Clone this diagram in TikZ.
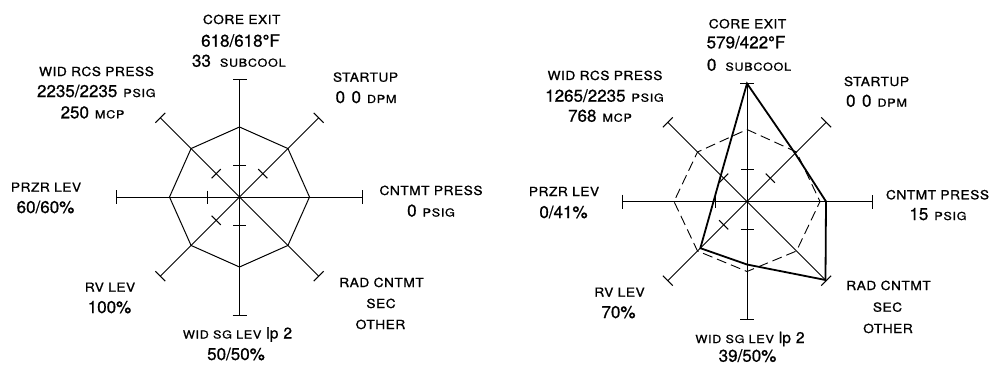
\documentclass[tikz,border=0pt]{standalone}
\usepackage{fontspec}
\setmainfont{TeX Gyre Heros}
\newfontfamily\labf[FakeStretch=1.1,LetterSpace=4,FakeBold=1.0]{TeX Gyre Heros}
\newfontfamily\unitf[FakeStretch=1.15,LetterSpace=6,FakeBold=1.0]{TeX Gyre Heros}
\newfontfamily\numf[FakeBold=0.8]{TeX Gyre Heros}
\newcommand\LB[1]{{\labf\fontsize{12.5}{14}\selectfont #1}}
\newcommand\UN[1]{{\unitf\fontsize{11}{12}\selectfont #1}}
\newcommand\NU[1]{{\numf\fontsize{17}{19}\selectfont #1}}
\newcommand\LP[1]{{\numf\fontsize{15.5}{17}\selectfont #1}}
\newcommand\radaxes[5]{%
  \begin{scope}[shift={(#1,#2)}]
    \foreach \a/\r in {0/#3,180/#3,90/#4,270/#4,45/#5,135/#5,225/#5,315/#5}{
      \begin{scope}[rotate=\a]
        \draw[axisline] (0,0) -- (\r,0);
        \draw[axisline] (\r,-7) -- (\r,7);
      \end{scope}
    }
    \foreach \a/\r in {90/32,270/28,180/32,45/33,135/33,225/33}{
      \begin{scope}[rotate=\a]
        \draw[axisline] (\r,-6.5) -- (\r,6.5);
      \end{scope}
    }
  \end{scope}}
\begin{document}
\begin{tikzpicture}[x=1pt,y=1pt,
  axisline/.style={line width=1pt,black},
  octo/.style={line width=1pt,line join=miter},
  octodash/.style={line width=0.9pt,dash pattern=on 10pt off 5pt},
  boldline/.style={line width=1.8pt,line join=miter},
  txt/.style={anchor=base,inner sep=0pt,outer sep=0pt}]
\useasboundingbox (0,0) rectangle (990,365);
\fill[white] (0,0) rectangle (990,365);

% ---------- left diagram ----------
\radaxes{239.5}{168}{123}{118}{112}
\begin{scope}[shift={(239.5,168)}]
  \draw[octo] (0:70) -- (45:68.5) -- (90:70) -- (135:68.5) -- (180:70)
    -- (225:68.5) -- (270:70) -- (315:68.5) -- cycle;
\end{scope}

\node[txt] (l1a) at (241.7,341) {\LB{CORE EXIT}};
\node[txt] (l1b) at (240.5,318.3) {\NU{618/618°F}};
\node[txt] (l1c) at (238.8,298.3) {\NU{33}\hspace{9pt}\UN{SUBCOOL}};
\node[txt] (l2a) at (96.5,289) {\LB{WID RCS PRESS}};
\node[txt] (l2b) at (96.3,268) {\NU{2235/2235}\hspace{6pt}\UN{PSIG}};
\node[txt] (l2c) at (92.5,246.7) {\NU{250}\hspace{6pt}\UN{MCP}};
\node[txt] (l3a) at (365.5,283.3) {\LB{STARTUP}};
\node[txt] (l3b) at (366,262) {\NU{0\hspace{6.5pt}0}\hspace{6pt}\UN{DPM}};
\node[txt] (l4a) at (431,170) {\LB{CNTMT PRESS}};
\node[txt] (l4b) at (431,148.5) {\NU{0}\hspace{6pt}\UN{PSIG}};
\node[txt] (l5a) at (46,173.3) {\LB{PRZR LEV}};
\node[txt] (l5b) at (45.5,152) {\NU{60/60\%}};
\node[txt] (l6a) at (110,73.3) {\LB{RV LEV}};
\node[txt] (l6b) at (109.5,52) {\NU{100\%}};
\node[txt] (l7a) at (237.5,26.5) {\UN{WID SG LEV}\hspace{5pt}\LP{lp\hspace{5pt}2}};
\node[txt] (l7b) at (236,5) {\NU{50/50\%}};
\node[txt] (l8a) at (381.5,78) {\LB{RAD CNTMT}};
\node[txt] (l8b) at (381,57) {\LB{SEC}};
\node[txt] (l8c) at (380.5,36) {\LB{OTHER}};

% ---------- right diagram ----------
\radaxes{747}{163.5}{125}{118}{112}
\begin{scope}[shift={(747,163.5)}]
  \draw[octodash] (90:72) -- (45:70) -- (0:73) -- (315:70) -- (270:70)
    -- (225:70) -- (180:73) -- (135:70) -- cycle;
  \draw[boldline] (90:118) -- (45:68) -- (0:79) -- (315:111) -- (270:63)
    -- (225:66) -- (180:33.5) -- (135:37) -- cycle;
\end{scope}

\node[txt] (r1a) at (747.5,336.7) {\LB{CORE EXIT}};
\node[txt] (r1b) at (746,316.7) {\NU{579/422°F}};
\node[txt] (r1c) at (749,294.3) {\NU{0}\hspace{9pt}\UN{SUBCOOL}};
\node[txt] (r2a) at (605,285) {\LB{WID RCS PRESS}};
\node[txt] (r2b) at (604.5,263.3) {\NU{1265/2235}\hspace{6pt}\UN{PSIG}};
\node[txt] (r2c) at (600,243.3) {\NU{768}\hspace{6pt}\UN{MCP}};
\node[txt] (r3a) at (876.5,279) {\LB{STARTUP}};
\node[txt] (r3b) at (876.5,258.3) {\NU{0\hspace{6.5pt}0}\hspace{6pt}\UN{DPM}};
\node[txt] (r4a) at (937.5,165.7) {\LB{CNTMT PRESS}};
\node[txt] (r4b) at (938,145) {\NU{15}\hspace{6pt}\UN{PSIG}};
\node[txt] (r5a) at (564,169) {\LB{PRZR LEV}};
\node[txt] (r5b) at (563.5,147) {\NU{0/41\%}};
\node[txt] (r6a) at (619.5,68.3) {\LB{RV LEV}};
\node[txt] (r6b) at (618.5,47) {\NU{70\%}};
\node[txt] (r7a) at (750,22) {\UN{WID SG LEV}\hspace{5pt}\LP{lp\hspace{5pt}2}};
\node[txt] (r7b) at (747.5,3.3) {\NU{39/50\%}};
\node[txt] (r8a) at (888.5,75) {\LB{RAD CNTMT}};
\node[txt] (r8b) at (887.5,53.3) {\LB{SEC}};
\node[txt] (r8c) at (888,32) {\LB{OTHER}};
\end{tikzpicture}
\end{document}
